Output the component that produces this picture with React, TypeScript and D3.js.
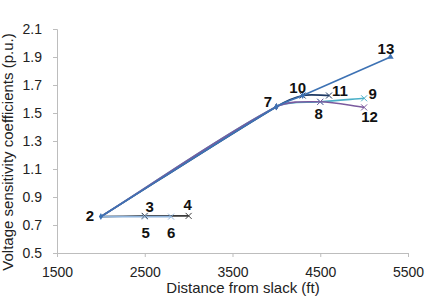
import { useEffect, useRef } from "react";
import * as d3 from "d3";

// bus numbers with their distance from the slack bus and sensitivity
const busIds = ["2", "3", "4", "5", "6", "7", "8", "9", "10", "11", "12", "13"];
const distance = [2000, 2500, 3000, 2500, 2800, 4000, 4500, 5000, 4300, 4600, 5000, 5300];
const sensitivity = [0.76, 0.765, 0.765, 0.76, 0.76, 1.545, 1.58, 1.605, 1.625, 1.625, 1.54, 1.9];

// each feeder path, listed by bus
const paths = [
  ["2", "3", "4"],
  ["2", "5", "6"],
  ["2", "7", "10", "11"],
  ["2", "7", "8", "9"],
  ["2", "7", "8", "12"],
  ["2", "7", "10", "13"],
];
const pathColors = ["#3a3a3a", "#8fb4dc", "#1f3a64", "#4bb0c8", "#7b5a9e", "#3d72b4"];
const pathMarkers = ["x", "x", "x", "x", "x", "triangle"];

const xTicks = [1500, 2500, 3500, 4500, 5500];
const yTicks = [0.5, 0.7, 0.9, 1.1, 1.3, 1.5, 1.7, 1.9, 2.1];

// label offsets (px) from each bus point
const labelOffset: Record<string, [number, number]> = {
  "2": [-11, 4.5],
  "3": [5, -4],
  "4": [-1, -6],
  "5": [1, 21.5],
  "6": [0, 21.5],
  "7": [-8.5, 0],
  "8": [-1.5, 17],
  "9": [8.5, 1],
  "10": [-5, -2.5],
  "11": [11, 0.5],
  "12": [5.5, 14.5],
  "13": [-4.5, -3.5],
};

const W = 428;
const H = 306;

// smooth line through the points, tangent length tied to each segment
function smoothPath(pts: [number, number][], k = 0.3) {
  const n = pts.length;
  const dir = pts.map((p, i) => {
    const a = pts[Math.max(0, i - 1)];
    const b = pts[Math.min(n - 1, i + 1)];
    const dx = b[0] - a[0];
    const dy = b[1] - a[1];
    const l = Math.hypot(dx, dy) || 1;
    return [dx / l, dy / l];
  });
  const p = d3.path();
  p.moveTo(pts[0][0], pts[0][1]);
  for (let i = 0; i < n - 1; i++) {
    const a = pts[i];
    const b = pts[i + 1];
    const d = Math.hypot(b[0] - a[0], b[1] - a[1]) * k;
    p.bezierCurveTo(
      a[0] + dir[i][0] * d,
      a[1] + dir[i][1] * d,
      b[0] - dir[i + 1][0] * d,
      b[1] - dir[i + 1][1] * d,
      b[0],
      b[1]
    );
  }
  return p.toString();
}

export default function App() {
  const ref = useRef<SVGSVGElement | null>(null);

  useEffect(() => {
    const svg = d3.select(ref.current);
    svg.selectAll("*").remove();

    const x = d3.scaleLinear().domain([1500, 5500]).range([57, 408]);
    const y = d3.scaleLinear().domain([0.5, 2.1]).range([253, 29]);
    const font = "'Liberation Sans', Arial, sans-serif";
    const axisColor = "#bdbdbd";

    const pt = (id: string) => {
      const i = busIds.indexOf(id);
      return [x(distance[i]), y(sensitivity[i])] as [number, number];
    };

    // x axis
    const gx = svg.append("g").attr("transform", "translate(0,253)");
    gx.call(d3.axisBottom(x).tickValues(xTicks).tickSize(4).tickFormat(d3.format("d")));
    gx.select(".domain").attr("stroke", axisColor);
    gx.selectAll("line").attr("stroke", axisColor);
    gx.selectAll("text")
      .attr("font-family", font)
      .attr("font-size", 14)
      .attr("fill", "#222")
      .attr("y", 23.5)
      .attr("dy", 0);

    // y axis
    const gy = svg.append("g").attr("transform", "translate(57,0)");
    gy.call(d3.axisLeft(y).tickValues(yTicks).tickSize(4).tickFormat(d3.format(".1f")));
    gy.select(".domain").attr("stroke", axisColor);
    gy.selectAll("line").attr("stroke", axisColor);
    gy.selectAll("text")
      .attr("font-family", font)
      .attr("font-size", 14)
      .attr("fill", "#222")
      .attr("x", -15);

    paths.forEach((p, k) => {
      svg.append("path")
        .attr("d", smoothPath(p.map(pt)))
        .attr("fill", "none")
        .attr("stroke", pathColors[k])
        .attr("stroke-width", 1.6);
    });

    // markers
    paths.forEach((p, k) => {
      p.slice(1).forEach((id, j) => {
        const [px, py] = pt(id);
        const shared = id === "7" || (id === "10" && k === 5);
        if (shared) {
          svg.append("path")
            .attr("d", d3.symbol(d3.symbolDiamond, 14)())
            .attr("transform", `translate(${px},${py})`)
            .attr("fill", pathColors[k]);
          return;
        }
        if (pathMarkers[k] === "triangle" && j === p.length - 2) {
          svg.append("path")
            .attr("d", d3.symbol(d3.symbolTriangle, 18)())
            .attr("transform", `translate(${px},${py})`)
            .attr("fill", pathColors[k]);
        } else {
          const s = 3;
          svg.append("path")
            .attr("d", `M${px - s},${py - s}L${px + s},${py + s}M${px - s},${py + s}L${px + s},${py - s}`)
            .attr("stroke", pathColors[k])
            .attr("stroke-width", 1);
        }
      });
    });
    const [x2, y2] = pt("2");
    svg.append("path")
      .attr("d", d3.symbol(d3.symbolDiamond, 14)())
      .attr("transform", `translate(${x2},${y2})`)
      .attr("fill", "#3d72b4");

    // bus labels
    busIds.forEach((id) => {
      const [px, py] = pt(id);
      const [dx, dy] = labelOffset[id];
      svg.append("text")
        .attr("x", px + dx)
        .attr("y", py + dy)
        .attr("text-anchor", "middle")
        .attr("font-family", font)
        .attr("font-size", 15)
        .attr("font-weight", "bold")
        .attr("fill", "#111")
        .text(id);
    });

    // axis titles
    svg.append("text")
      .attr("x", 243)
      .attr("y", 292.5)
      .attr("text-anchor", "middle")
      .attr("font-family", font)
      .attr("font-size", 15)
      .attr("fill", "#222")
      .text("Distance from slack (ft)");

    svg.append("text")
      .attr("transform", "translate(12.5,152) rotate(-90)")
      .attr("text-anchor", "middle")
      .attr("font-family", font)
      .attr("font-size", 15)
      .attr("fill", "#222")
      .text("Voltage sensitivity coefficients (p.u.)");
  }, []);

  return (
    <svg
      ref={ref}
      width={W}
      height={H}
      style={{ position: "absolute", left: 0, top: 0, background: "#fff" }}
    />
  );
}
